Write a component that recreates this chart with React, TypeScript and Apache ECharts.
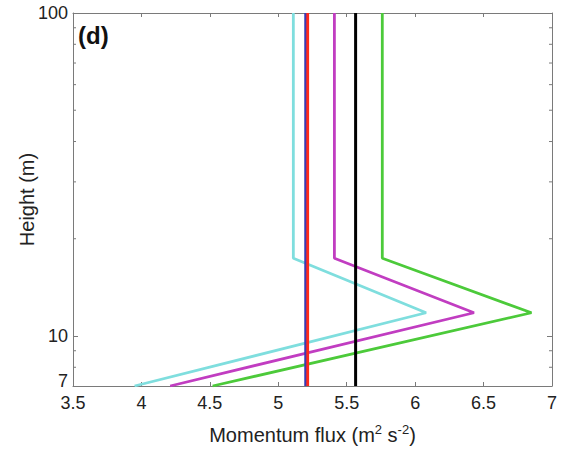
import React, { useEffect, useRef } from "react";
import * as echarts from "echarts";

// Heights (m) of the profile points
const heights = [7, 11.8, 17.4, 100];
// Momentum flux profiles (m^2 s^-2)
const cyanFlux = [3.95, 6.08, 5.11, 5.11];
const magentaFlux = [4.21, 6.43, 5.41, 5.41];
const greenFlux = [4.52, 6.85, 5.76, 5.76];
const blueFlux = [5.2, 5.2, 5.2, 5.2];
const redFlux = [5.215, 5.215, 5.215, 5.215];
const blackFlux = [5.565, 5.565, 5.565, 5.565];

const xTicks = [3.5, 4, 4.5, 5, 5.5, 6, 6.5, 7];
const yMinorTicks = [8, 9, 20, 30, 40, 50, 60, 70, 80, 90];

const pair = (xs: number[]) => xs.map((x, i) => [x, heights[i]]);

export default function App() {
  const ref = useRef<HTMLDivElement>(null);
  useEffect(() => {
    document.body.style.margin = "0";
    if (!ref.current) return;
    const chart = echarts.init(ref.current, null, { renderer: "svg" });
    const font = "Liberation Sans, Arial, sans-serif";
    const axisColor = "#7a7a7a";
    const labelColor = "#222";
    const lineSeries = (name: string, data: number[], color: string, width: number) => ({
      name,
      type: "line",
      data: pair(data),
      showSymbol: false,
      symbol: "none",
      lineStyle: { color, width },
      itemStyle: { color },
      silent: true,
    });
    chart.setOption({
      animation: false,
      grid: { left: 73, right: 13, top: 13, bottom: 64 },
      xAxis: [
        {
          type: "value",
          min: xTicks[0],
          max: xTicks[xTicks.length - 1],
          interval: 0.5,
          position: "bottom",
          name: "Momentum flux (m{sup|2} s{sup|-2})",
          nameLocation: "middle",
          nameGap: 37,
          nameMoveOverlap: false,
          nameTextStyle: {
            fontFamily: font,
            fontSize: 20,
            color: labelColor,
            rich: {
              sup: { fontFamily: font, fontSize: 13, color: labelColor, verticalAlign: "top", padding: [0, 0, 10, 0] },
            },
          },
          axisLine: { show: true, lineStyle: { color: axisColor, width: 1 } },
          axisTick: { show: true, inside: true, length: 4, lineStyle: { color: axisColor } },
          axisLabel: {
            fontFamily: font,
            fontSize: 18,
            color: labelColor,
            margin: 8,
            showMinLabel: true,
            showMaxLabel: true,
            hideOverlap: false,
            formatter: (v: number) => String(v),
          },
          splitLine: { show: false },
        },
        {
          type: "value",
          min: xTicks[0],
          max: xTicks[xTicks.length - 1],
          interval: 0.5,
          position: "top",
          axisLine: { show: true, lineStyle: { color: axisColor, width: 1 } },
          axisTick: { show: true, inside: true, length: 4, lineStyle: { color: axisColor } },
          axisLabel: { show: false },
          splitLine: { show: false },
        },
      ],
      yAxis: [
        {
          type: "log",
          logBase: 10,
          min: 7,
          max: 100,
          position: "left",
          name: "Height (m)",
          nameLocation: "middle",
          nameGap: 36,
          nameMoveOverlap: false,
          nameTextStyle: { fontFamily: font, fontSize: 20, color: labelColor },
          axisLine: { show: true, lineStyle: { color: axisColor, width: 1 } },
          axisTick: { show: true, inside: true, length: 5, lineStyle: { color: axisColor } },
          axisLabel: {
            fontFamily: font,
            fontSize: 18,
            color: labelColor,
            margin: 5,
            showMinLabel: true,
            showMaxLabel: true,
            formatter: (v: number) => {
              const r = Math.round(v);
              return r === 7 ? "{lo|7}" : String(r);
            },
            rich: {
              lo: { fontFamily: font, fontSize: 18, color: labelColor, padding: [0, 0, 10, 0] },
            },
          },
          splitLine: { show: false },
          minorTick: { show: false },
        },
        {
          type: "log",
          logBase: 10,
          min: 7,
          max: 100,
          position: "right",
          axisLine: { show: true, lineStyle: { color: axisColor, width: 1 } },
          axisTick: { show: true, inside: true, length: 5, lineStyle: { color: axisColor } },
          axisLabel: { show: false },
          splitLine: { show: false },
        },
      ],
      series: [
        {
          type: "custom",
          silent: true,
          clip: false,
          data: yMinorTicks.map((v) => [xTicks[0], v, xTicks[xTicks.length - 1]]),
          renderItem: (params: any, api: any) => {
            const y = api.value(1);
            const l = api.coord([api.value(0), y]);
            const r = api.coord([api.value(2), y]);
            const st = { stroke: axisColor, lineWidth: 1 };
            return {
              type: "group",
              children: [
                { type: "line", shape: { x1: l[0], y1: l[1], x2: l[0] + 3, y2: l[1] }, style: st },
                { type: "line", shape: { x1: r[0], y1: r[1], x2: r[0] - 3, y2: r[1] }, style: st },
              ],
            };
          },
        },
        lineSeries("cyan", cyanFlux, "#7fdede", 2.8),
        lineSeries("magenta", magentaFlux, "#c13dc1", 2.8),
        lineSeries("green", greenFlux, "#4cca3a", 2.8),
        lineSeries("blue", blueFlux, "#3a3ab4", 2.8),
        lineSeries("red", redFlux, "#ff2a1a", 2.8),
        lineSeries("black", blackFlux, "#000000", 3),
      ],
      graphic: [
        {
          type: "text",
          left: 78,
          top: 23,
          style: { text: "(d)", fontFamily: font, fontSize: 24, fontWeight: "bold", fill: "#111" },
        },
      ],
    });
    return () => chart.dispose();
  }, []);
  return <div ref={ref} style={{ width: 565, height: 450 }} />;
}
